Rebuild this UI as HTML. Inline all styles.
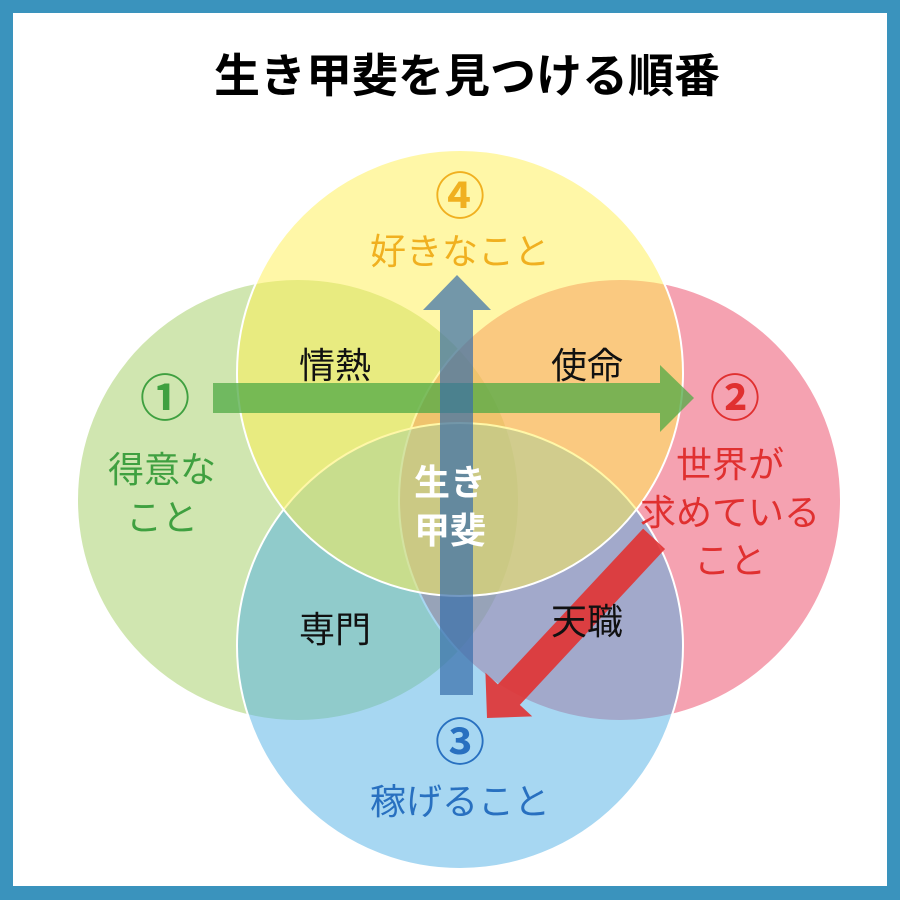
<!DOCTYPE html>
<html><head><meta charset="utf-8"><style>
body{margin:0;width:900px;height:900px;overflow:hidden;background:#fff}
svg text{font-family:"Liberation Sans","Noto Sans CJK JP",sans-serif}
</style></head><body>
<svg width="900" height="900" viewBox="0 0 900 900" xmlns="http://www.w3.org/2000/svg">
<rect x="0" y="0" width="900" height="900" fill="#3a93bd"/>
<rect x="13" y="13" width="874" height="873" fill="#fff"/>
<text x="467" y="92" font-size="46" font-weight="bold" text-anchor="middle" fill="#000">生き甲斐を見つける順番</text>
<g stroke="#fff" stroke-width="2">
<circle cx="298" cy="500" r="221" fill="rgba(150,200,80,0.45)"/>
<circle cx="620" cy="500" r="221" fill="rgba(236,70,100,0.5)"/>
<circle cx="460" cy="646" r="223" fill="rgba(80,175,230,0.5)"/>
<circle cx="460" cy="373" r="223" fill="rgba(255,240,80,0.5)"/>
</g>
<polygon points="213,383 660,383 660,365 694,398 660,432 660,413 213,413" fill="rgba(80,170,70,0.75)"/>
<polygon points="440,695 440,310 423,310 457,275 491,310 473,310 473,695" fill="rgba(55,110,170,0.7)"/>
<g transform="translate(487,718) rotate(-47)">
<polygon points="0,0 32,-32 32,-15 245,-15 245,15 32,15 32,32" fill="rgba(225,50,50,0.9)"/>
</g>
<g font-size="36" text-anchor="middle">
<text x="335" y="378" fill="#111">情熱</text>
<text x="587" y="378" fill="#111">使命</text>
<text x="335" y="642" fill="#111">専門</text>
<text x="587" y="634" fill="#111">天職</text>
<text x="450" y="495" fill="#fff" font-weight="bold">生き</text>
<text x="450" y="543" fill="#fff" font-weight="bold">甲斐</text>
<text x="460" y="214" fill="#f0b020" font-size="50" font-weight="bold">④</text>
<text x="460" y="264" fill="#f0b020">好きなこと</text>
<text x="165" y="416" fill="#3fa040" font-size="50" font-weight="bold">①</text>
<text x="162" y="482" fill="#3fa040">得意な</text>
<text x="162" y="530" fill="#3fa040">こと</text>
<text x="735" y="416" fill="#e03030" font-size="50" font-weight="bold">②</text>
<text x="730" y="477" fill="#e03030">世界が</text>
<text x="730" y="525" fill="#e03030">求めている</text>
<text x="730" y="573" fill="#e03030">こと</text>
<text x="460" y="760" fill="#2870c0" font-size="50" font-weight="bold">③</text>
<text x="460" y="814" fill="#2870c0">稼げること</text>
</g>
</svg>
</body></html>
